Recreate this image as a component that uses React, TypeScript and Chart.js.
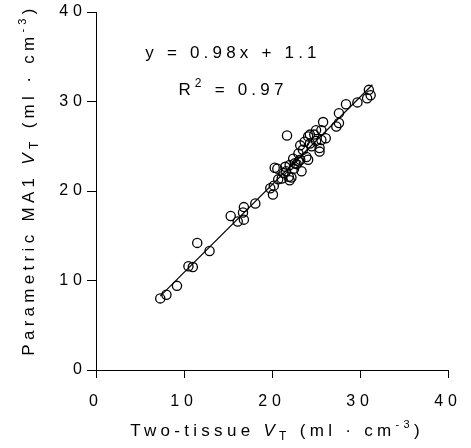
import React, { useEffect, useRef } from 'react';
import { Chart, registerables } from 'chart.js';

Chart.register(...registerables);

// Two-tissue VT (x) and Parametric MA1 VT (y), ml·cm^-3
const twoTissueVT = [
  7.3, 8.0, 9.2, 10.5, 11.0, 11.5, 12.9, 15.3, 16.1, 16.8, 16.8, 16.7, 18.1,
  19.8, 20.2, 20.1, 20.3, 20.6, 21.1, 21.3, 21.5, 21.7, 21.9, 22.0, 22.0, 22.4,
  22.6, 23.0, 23.2, 23.2, 23.35, 23.5, 23.7, 23.9, 24.1, 24.1, 24.3, 24.3, 24.8,
  25.0, 25.4, 25.4, 25.6, 25.6, 25.8, 26.1, 27.3, 27.6, 27.6, 28.4, 29.7, 30.8,
  31.0, 31.2, 22.2, 22.8, 24.5, 21.6, 23.0, 25.0, 20.7, 22.5,
];
const parametricVT = [
  8.0, 8.4, 9.4, 11.6, 11.5, 14.2, 13.3, 17.2, 16.6, 16.8, 18.2, 17.6, 18.6,
  20.3, 20.6, 19.6, 22.6, 22.5, 21.4, 22.0, 22.7, 26.2, 21.6, 21.2, 22.9, 23.6,
  23.1, 24.2, 23.5, 25.1, 22.2, 24.6, 25.5, 23.8, 23.5, 26.1, 25.3, 26.3, 26.3,
  26.8, 24.4, 24.8, 25.7, 26.8, 27.7, 25.9, 27.2, 27.6, 28.7, 29.7, 29.9, 30.35,
  31.3, 30.7, 21.5, 23.0, 25.0, 22.2, 23.3, 25.6, 21.3, 22.5,
];

const fitSlope = 0.98;
const fitIntercept = 1.1;
const fitXRange = [7.3, 31.4];
const axisMin = 0;
const axisMax = 40;
const tickStep = 10;

const FONT = "'Liberation Sans', Arial, sans-serif";

type Run = { t: string; size: number; italic?: boolean; dy?: number };

function drawRuns(
  ctx: CanvasRenderingContext2D,
  runs: Run[],
  x: number,
  y: number,
  spacing: number
) {
  ctx.save();
  (ctx as any).letterSpacing = spacing + 'px';
  ctx.textBaseline = 'alphabetic';
  ctx.textAlign = 'left';
  ctx.fillStyle = '#000';
  const fontOf = (r: Run) => `${r.italic ? 'italic ' : ''}${r.size}px ${FONT}`;
  const widths = runs.map((r) => {
    ctx.font = fontOf(r);
    return ctx.measureText(r.t).width;
  });
  const total = widths.reduce((a, b) => a + b, 0);
  let cx = x - total / 2;
  runs.forEach((r, i) => {
    ctx.font = fontOf(r);
    ctx.fillText(r.t, cx, y + (r.dy || 0));
    cx += widths[i];
  });
  ctx.restore();
}

const textPlugin = {
  id: 'textPlugin',
  beforeDraw(chart: any) {
    (chart.ctx as any).letterSpacing = '5px';
  },
  afterDraw(chart: any) {
    const ctx: CanvasRenderingContext2D = chart.ctx;
    // annotation
    drawRuns(ctx, [{ t: 'y = 0.98x + 1.1', size: 17 }], 233, 58, 4.2);
    drawRuns(
      ctx,
      [
        { t: 'R', size: 17 },
        { t: '2', size: 12, dy: -8 },
        { t: ' = 0.97', size: 17 },
      ],
      233,
      95,
      4.2
    );
    // x title
    drawRuns(
      ctx,
      [
        { t: 'Two-tissue ', size: 17 },
        { t: 'V', size: 17, italic: true },
        { t: 'T', size: 12, dy: 4 },
        { t: ' (ml · cm', size: 17 },
        { t: '-3', size: 11, dy: -8 },
        { t: ')', size: 17 },
      ],
      277,
      436,
      4.3
    );
    // y title
    ctx.save();
    ctx.translate(34, 180);
    ctx.rotate(-Math.PI / 2);
    drawRuns(
      ctx,
      [
        { t: 'Parametric MA1 ', size: 17 },
        { t: 'V', size: 17, italic: true },
        { t: 'T', size: 12, dy: 4 },
        { t: ' (ml · cm', size: 17 },
        { t: '-3', size: 11, dy: -8 },
        { t: ')', size: 17 },
      ],
      0,
      0,
      4.3
    );
    ctx.restore();
    (ctx as any).letterSpacing = '0px';
  },
};

export default function App() {
  const ref = useRef<HTMLCanvasElement | null>(null);

  useEffect(() => {
    if (!ref.current) return;
    const points = twoTissueVT.map((x, i) => ({ x, y: parametricVT[i] }));
    const fitLine = fitXRange.map((x) => ({ x, y: fitSlope * x + fitIntercept }));

    const axisCommon = (tickLength: number, padding: number) => ({
      type: 'linear' as const,
      min: axisMin,
      max: axisMax,
      ticks: {
        stepSize: tickStep,
        color: '#000',
        padding,
        font: { family: FONT, size: 16 },
      },
      grid: {
        drawOnChartArea: false,
        drawTicks: true,
        tickLength,
        color: '#000',
        lineWidth: 1,
      },
      border: { display: true, color: '#000', width: 1 },
    });

    const chart = new Chart(ref.current, {
      type: 'scatter',
      data: {
        datasets: [
          {
            type: 'line',
            data: fitLine,
            borderColor: '#000',
            borderWidth: 1.2,
            pointRadius: 0,
            fill: false,
          } as any,
          {
            type: 'scatter',
            data: points,
            pointRadius: 4.6,
            pointStyle: 'circle',
            borderColor: '#000',
            borderWidth: 1.3,
            backgroundColor: 'rgba(0,0,0,0)',
          },
        ],
      },
      options: {
        animation: false,
        responsive: false,
        maintainAspectRatio: false,
        layout: { padding: { left: 0, right: 18, top: 12, bottom: 0 } },
        plugins: { legend: { display: false }, tooltip: { enabled: false } },
        scales: {
          x: {
            ...axisCommon(8, 14),
            position: 'bottom',
            afterFit: (s: any) => {
              s.height = 78;
            },
          },
          y: {
            ...axisCommon(9, 0),
            position: 'left',
            afterFit: (s: any) => {
              s.width = 96;
            },
          },
        } as any,
      },
      plugins: [textPlugin],
    });
    return () => chart.destroy();
  }, []);

  return (
    <div style={{ position: 'fixed', left: 0, top: 0, width: 471, height: 448, background: '#fff' }}>
      <canvas ref={ref} width={471} height={448} style={{ display: 'block' }} />
    </div>
  );
}
